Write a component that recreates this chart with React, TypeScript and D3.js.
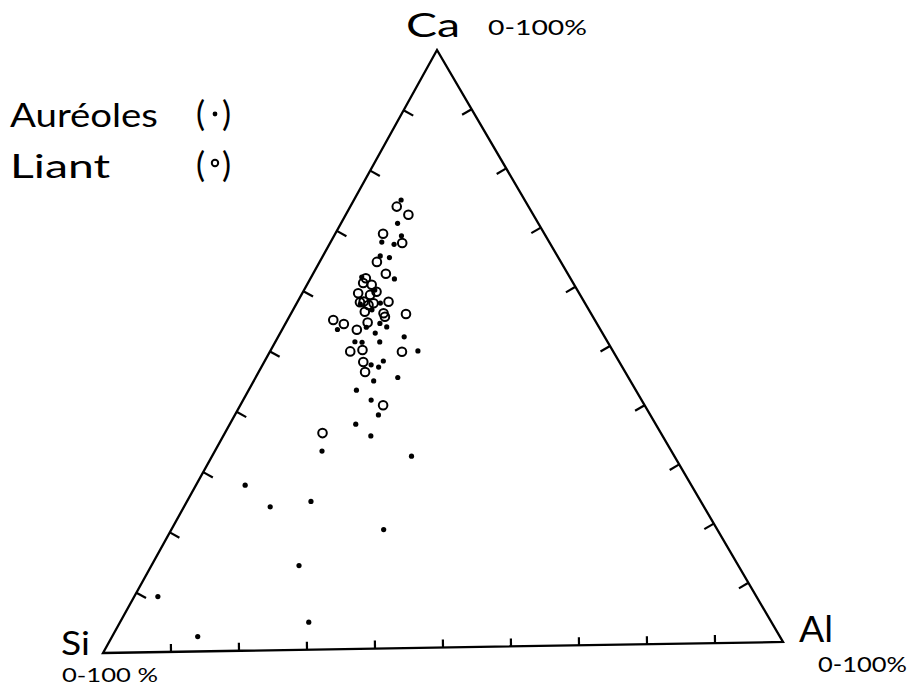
import React from 'react';
import * as d3 from 'd3';

// Ternary values in percent: [Ca, Al]; Si is the remainder
const liant: [number, number][] = [
  [73.9, 6.9], [72.5, 9.3], [69.4, 7.1], [67.8, 10.7], [64.7, 8.5], [62.7, 10.8],
  [61.2, 8.2], [60.9, 9.6], [59.5, 8.3], [59.2, 10.2], [58.1, 9.8], [57.8, 11.4],
  [56.4, 10.8], [56.1, 13.7], [58.0, 13.5], [55.9, 17.1], [55.1, 6.8], [54.4, 8.7],
  [53.4, 11.1], [54.6, 12.1], [49.8, 11.9], [50.0, 13.6], [49.6, 19.6], [48.0, 14.7],
  [46.3, 15.8], [40.7, 21.2], [36.2, 14.5], [59.7, 10.9], [62.0, 8.2], [55.5, 14.2],
  [57.5, 10.8], [58.0, 9.3],
];

const aureoles: [number, number][] = [
  [75.0, 7.0], [71.1, 8.4], [68.0, 7.6], [69.0, 10.0], [67.6, 9.6], [65.4, 10.0],
  [65.7, 8.5], [61.8, 12.5], [53.5, 8.2], [52.8, 14.1], [51.3, 15.5], [51.4, 11.8],
  [52.1, 18.7], [49.7, 21.9], [48.1, 17.6], [47.5, 16.1], [47.1, 17.4], [44.8, 17.8],
  [45.3, 21.1], [43.3, 16.0], [41.6, 19.0], [39.1, 21.3], [37.6, 18.7], [35.6, 21.9],
  [33.2, 15.9], [32.1, 29.6], [27.7, 7.3], [24.0, 12.8], [24.8, 18.4], [19.9, 31.5],
  [14.1, 21.9], [9.3, 3.5], [4.6, 28.0], [2.5, 12.7], [51.3, 12.9], [53.8, 15.3],
  [54.4, 14.0], [62.2, 7.5], [60.0, 10.5], [57.7, 9.5], [57.8, 12.4], [56.7, 11.7],
  [53.8, 12.3],
];

const tickValues = d3.range(10, 100, 10);
const rangeLabel = '0-100 %';

// triangle corners (page pixels)
const SI: [number, number] = [103, 653];
const AL: [number, number] = [783, 642];
const CA: [number, number] = [437, 50];

const frac = d3.scaleLinear().domain([0, 100]).range([0, 1]);

const project = (ca: number, al: number): [number, number] => {
  const c = frac(ca);
  const a = frac(al);
  return [
    SI[0] + a * (AL[0] - SI[0]) + c * (CA[0] - SI[0]),
    SI[1] + a * (AL[1] - SI[1]) + c * (CA[1] - SI[1]),
  ];
};

// point along an edge plus an inward tick
const edgeTick = (p0: [number, number], p1: [number, number], v: number, len: number, inward: [number, number]) => {
  const t = frac(v);
  const x = p0[0] + t * (p1[0] - p0[0]);
  const y = p0[1] + t * (p1[1] - p0[1]);
  const dx = p1[0] - p0[0];
  const dy = p1[1] - p0[1];
  const l = Math.hypot(dx, dy);
  let nx = -dy / l;
  let ny = dx / l;
  if (nx * (inward[0] - x) + ny * (inward[1] - y) < 0) { nx = -nx; ny = -ny; }
  return { x1: x, y1: y, x2: x + nx * len, y2: y + ny * len };
};

const App: React.FC = () => {
  const centre: [number, number] = [(SI[0] + AL[0] + CA[0]) / 3, (SI[1] + AL[1] + CA[1]) / 3];
  const outline = d3.line()([SI, AL, CA]) + 'Z';
  const font = 'Lato, "Open Sans", sans-serif';
  const stretch = 'spacingAndGlyphs';

  return (
    <svg width={914} height={689} viewBox="0 0 914 689"
      style={{ position: 'absolute', left: 0, top: 0, background: '#fff', display: 'block' }}>
      <path d={outline} fill="none" stroke="#000" strokeWidth={2.3} strokeLinejoin="miter" />

      {tickValues.map(v => {
        const t = edgeTick(SI, CA, v, 11, centre);
        return <line key={'l' + v} {...t} stroke="#000" strokeWidth={2.2} />;
      })}
      {tickValues.map(v => {
        const t = edgeTick(CA, AL, v, 11, centre);
        return <line key={'r' + v} {...t} stroke="#000" strokeWidth={2.2} />;
      })}
      {tickValues.map(v => {
        const t = edgeTick(SI, AL, v, 8, centre);
        return <line key={'b' + v} {...t} stroke="#000" strokeWidth={2.2} />;
      })}

      {liant.map(([ca, al], i) => {
        const [x, y] = project(ca, al);
        return <circle key={'o' + i} cx={x} cy={y} r={4.3} fill="none" stroke="#000" strokeWidth={2} />;
      })}
      {aureoles.map(([ca, al], i) => {
        const [x, y] = project(ca, al);
        return <circle key={'d' + i} cx={x} cy={y} r={2.6} fill="#000" />;
      })}

      <g fontFamily={font} fill="#000">
        <text x={406} y={37} fontSize={33} textLength={54} lengthAdjust={stretch}>Ca</text>
        <text x={488} y={35} fontSize={21} textLength={99} lengthAdjust={stretch}>{rangeLabel.replace(' ', '')}</text>
        <text x={61} y={655} fontSize={33} textLength={29} lengthAdjust={stretch}>Si</text>
        <text x={62} y={682} fontSize={20} textLength={96} lengthAdjust={stretch}>{rangeLabel}</text>
        <text x={799} y={642} fontSize={36} textLength={34} lengthAdjust={stretch}>Al</text>
        <text x={818} y={672} fontSize={21} textLength={89} lengthAdjust={stretch}>{rangeLabel.replace(' ', '')}</text>

        <text x={10} y={127} fontSize={33} textLength={148} lengthAdjust={stretch}>Auréoles</text>
        <text x={10} y={178} fontSize={33} textLength={100} lengthAdjust={stretch}>Liant</text>
        <text x={196} y={126} fontSize={34}>(</text>
        <text x={222} y={126} fontSize={34}>)</text>
        <text x={196} y={177} fontSize={34}>(</text>
        <text x={222} y={177} fontSize={34}>)</text>
      </g>
      <circle cx={215} cy={114} r={2.4} fill="#000" />
      <circle cx={215} cy={163} r={3.2} fill="none" stroke="#000" strokeWidth={2} />
    </svg>
  );
};

export default App;
